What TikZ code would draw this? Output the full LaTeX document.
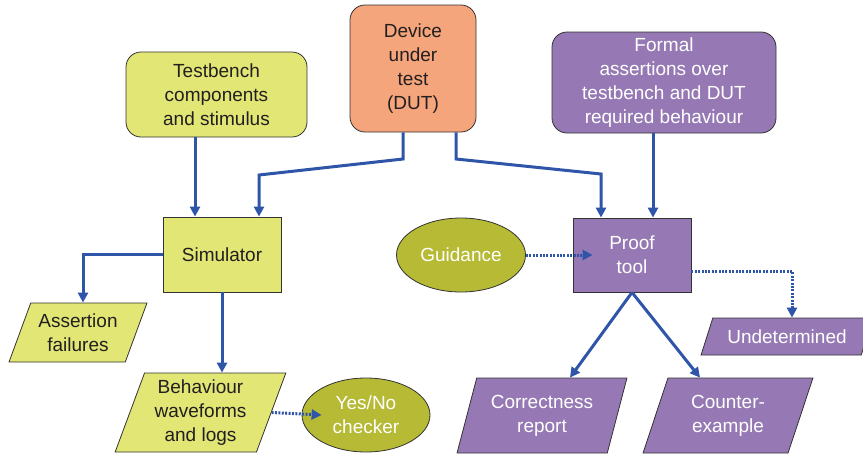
\documentclass[tikz,border=0pt]{standalone}
\usepackage{fontspec}
\setmainfont{Liberation Sans}
\usetikzlibrary{arrows.meta,shapes.geometric}
\definecolor{tbyellow}{HTML}{E1E675}
\definecolor{dutorange}{HTML}{F5A57B}
\definecolor{fpurple}{HTML}{9679B4}
\definecolor{olivegr}{HTML}{B6BA35}
\definecolor{linkblue}{HTML}{2F55A8}
\definecolor{edgegray}{HTML}{333333}
\definecolor{inktext}{HTML}{231F20}

\begin{document}
\begin{tikzpicture}[x=1pt,y=-1pt,>={Triangle[length=10pt,width=10pt]},
  every node/.style={font=\fontsize{19}{24}\selectfont,align=center,draw=edgegray,line width=.8pt,inner sep=1pt},
  soft/.style={rectangle,rounded corners=15pt},
  io/.style={trapezium,trapezium stretches=true},
  link/.style={linkblue,line width=3pt},
  dots/.style={link,dash pattern=on 2pt off 1.4pt}]
 \useasboundingbox (0,0) rectangle (863,458);
 % top row
 \node[soft,fill=tbyellow,text=inktext,minimum width=181pt,minimum height=85pt] (tb) at (216.5,94.5) {Testbench\\components\\and stimulus};
 \node[soft,fill=dutorange,text=inktext,minimum width=126pt,minimum height=127pt] (dut) at (413,68.5) {Device\\under\\test\\(DUT)};
 \node[soft,fill=fpurple,text=white,minimum width=224pt,minimum height=101pt] (formal) at (664,82.5) {Formal\\assertions over\\testbench and DUT\\required behaviour};
 % tools
 \node[rectangle,fill=tbyellow,text=inktext,minimum width=118pt,minimum height=75pt] (sim) at (222,254.5) {Simulator};
 \node[rectangle,fill=fpurple,text=white,minimum width=118pt,minimum height=74pt] (proof) at (632,255) {Proof\\tool};
 \node[ellipse,fill=olivegr,text=white,minimum width=129pt,minimum height=74pt] (guid) at (461,255) {Guidance};
 % results
 \node[io,trapezium left angle=65,trapezium right angle=115,fill=tbyellow,text=inktext,minimum width=138pt,minimum height=59pt] (fail) at (78,332.5) {Assertion\\failures};
 \node[io,trapezium left angle=70,trapezium right angle=110,fill=tbyellow,text=inktext,minimum width=171pt,minimum height=79pt] (behav) at (200.5,412.5) {Behaviour\\waveforms\\and logs};
 \node[ellipse,fill=olivegr,text=white,minimum width=128pt,minimum height=74pt] (yesno) at (366,415) {Yes/No\\checker};
 \node[io,trapezium left angle=59,trapezium right angle=121,fill=fpurple,text=white,minimum width=172pt,minimum height=37pt] (undet) at (787,336.5) {Undetermined};
 \node[io,trapezium left angle=70,trapezium right angle=110,fill=fpurple,text=white,minimum width=170pt,minimum height=75pt] (corr) at (542,415.5) {Correctness\\report};
 \node[io,trapezium left angle=70,trapezium right angle=110,fill=fpurple,text=white,minimum width=170pt,minimum height=75pt] (cex) at (728,415.5) {Counter-\\example};
 % connectors
 \draw[link,->] (tb.south -| 195,0) -- (sim.north -| 195,0);
 \draw[link,->] (dut.south -| 403,0) -- (403,159) -- (259,175) -- (sim.north -| 259,0);
 \draw[link,->] (dut.south -| 456,0) -- (456,159) -- (601,174) -- (proof.north -| 601,0);
 \draw[link,->] (formal.south -| 653,0) -- (proof.north -| 653,0);
 \draw[link,->] (sim.west) -| (fail.north -| 83,0);
 \draw[link,->] (sim.south) -- (behav.north -| sim.south);
 \draw[link,->] (proof.south) -- (corr.north -| 570,0);
 \draw[link,->] (proof.south) -- (cex.north -| 700,0);
 \draw[dots,->] (behav.east) -- ([xshift=20pt]yesno.west);
 \draw[dots,->] (guid.east) -- ([xshift=20pt]proof.west);
 \draw[dots,->] (proof.east |- 0,271) -| (undet.north -| 792,0);
\end{tikzpicture}
\end{document}
